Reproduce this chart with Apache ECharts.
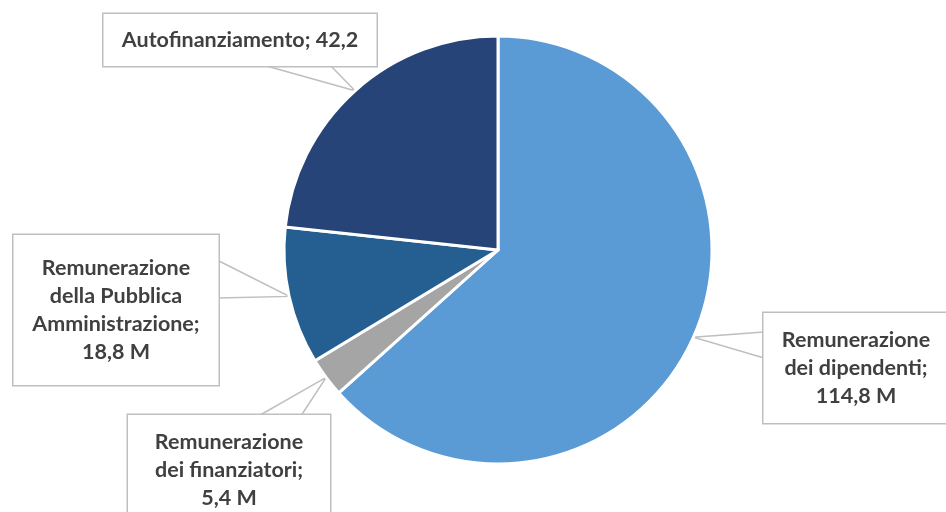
<!DOCTYPE html>
<html>
<head>
<meta charset="utf-8">
<script src="https://cdn.jsdelivr.net/npm/echarts@6/dist/echarts.min.js"></script>
<style>
  html, body { margin: 0; padding: 0; background: #fff; }
  #chart { width: 946px; height: 512px; }
</style>
</head>
<body>
<div id="chart"></div>
<script>
// data
var names = ['Remunerazione\ndei dipendenti;', 'Remunerazione\ndei finanziatori;', 'Remunerazione\ndella Pubblica\nAmministrazione;', 'Autofinanziamento;'];
var values = [114.8, 5.4, 18.8, 42.2];
var units = [' M', ' M', ' M', ''];
var seps = ['\n', '\n', '\n', ' '];
var colors = ['#5B9BD5', '#A5A5A5', '#255E91', '#264478'];

// callout boxes: centre, width, vertical padding, and where the pointer leaves the box
var boxes = [
    { x: 856, y: 368, w: 185, ph: 13, base: [[764, 332], [764, 358]] },
    { x: 229, y: 470, w: 202, ph: 13, base: [[248, 422], [297, 422]] },
    { x: 116, y: 310, w: 205, ph: 19, base: [[217, 260], [217, 298]] },
    { x: 240, y: 40, w: 273, ph: 12, base: [[263, 65], [330, 65]] }
];

var chart = echarts.init(document.getElementById('chart'));

var data = values.map(function (v, i) {
    return {
        name: names[i],
        value: v,
        itemStyle: { color: colors[i] },
        label: {
            width: boxes[i].w - 20,
            padding: [boxes[i].ph, 10, boxes[i].ph, 10]
        }
    };
});

chart.setOption({
    animation: false,
    series: [{
        type: 'pie',
        center: [498, 250],
        radius: [0, 214],
        startAngle: 90,
        clockwise: true,
        avoidLabelOverlap: false,
        itemStyle: { borderColor: '#fff', borderWidth: 3 },
        label: {
            show: true,
            formatter: function (p) {
                var i = p.dataIndex;
                return p.name + seps[i] + p.value.toFixed(1).replace('.', ',') + units[i];
            },
            overflow: 'none',
            fontFamily: 'Lato',
            fontWeight: 'bold',
            fontSize: 21.5,
            lineHeight: 28,
            color: '#404040',
            align: 'center',
            backgroundColor: '#fff',
            borderColor: '#BFBFBF',
            borderWidth: 1.5
        },
        labelLine: {
            show: true,
            length: 10,
            length2: 10,
            lineStyle: { color: '#BFBFBF', width: 1.5 }
        },
        labelLayout: function (params) {
            var b = boxes[params.dataIndex];
            var out = { x: b.x, y: b.y, align: 'center', verticalAlign: 'middle' };
            if (params.labelLinePoints) {
                var tip = params.labelLinePoints[0];
                out.labelLinePoints = [b.base[0], tip, b.base[1]];
            }
            return out;
        },
        data: data
    }]
});
</script>
</body>
</html>
